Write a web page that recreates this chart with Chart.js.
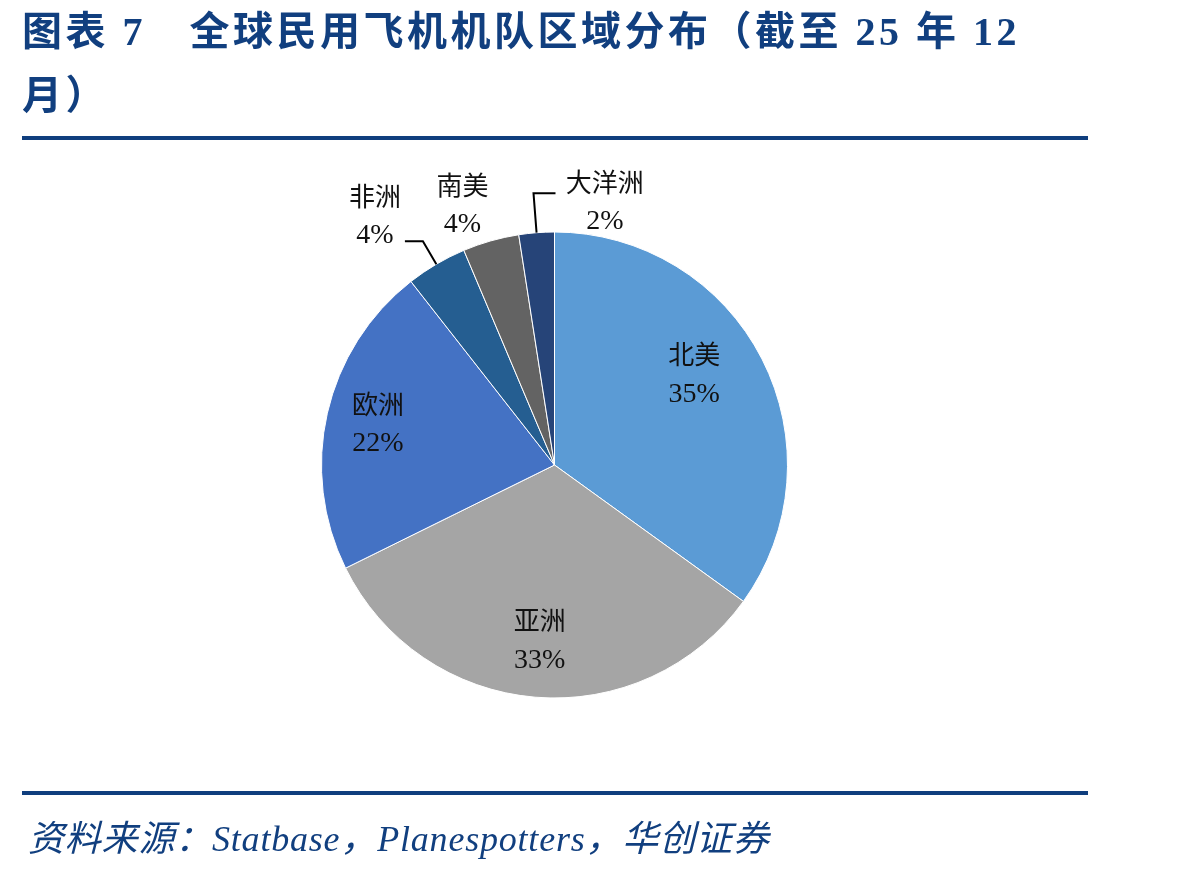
<!DOCTYPE html>
<html>
<head>
<meta charset="utf-8">
<script src="https://cdn.jsdelivr.net/npm/chart.js@4.4.1/dist/chart.umd.min.js"></script>
<style>
  html, body { margin: 0; padding: 0; background: #fff; }
  body { width: 1198px; height: 869px; position: relative; overflow: hidden; }
  #title {
    position: absolute; left: 22px; top: 0px;
    font: bold 40px "Liberation Serif", "Noto Sans CJK SC", serif;
    color: #113f7f; line-height: 64px; letter-spacing: 3.5px; white-space: nowrap;
  }
  .rule { position: absolute; left: 22px; width: 1066px; height: 4px; background: #0f3e7e; }
  #source {
    position: absolute; left: 28px; top: 809px;
    font: italic 36px "Liberation Serif", "Noto Sans CJK SC", serif;
    color: #113f7f; white-space: nowrap; letter-spacing: 0.8px;
  }
  #wrap { position: absolute; left: 0; top: 0; width: 1198px; height: 869px; }
</style>
</head>
<body>
<div id="wrap"><canvas id="pieChart"></canvas></div>
<div id="title">图表 7　全球民用飞机机队区域分布（截至 25 年 12<br>月）</div>
<div class="rule" style="top:136px"></div>
<div class="rule" style="top:791px"></div>
<div id="source">资料来源：Statbase，Planespotters，华创证券</div>
<script>
const regions = ['北美', '亚洲', '欧洲', '非洲', '南美', '大洋洲'];
const shares = [34.9, 32.7, 21.7, 4.2, 3.9, 2.45];
const sliceColors = ['#5b9bd5', '#a5a5a5', '#4472c4', '#255e91', '#636363', '#264478'];

// where each label sits: radius factor and angle shift (deg) from the slice middle
const labelPlace = [
    { r: 0.712, da: -5.5 },
    { r: 0.76, da: 0 },
    { r: 0.777, da: 0 },
    { r: 1.315, da: -5.4, leader: { elbow: 1.114, hx: -18 } },
    { r: 1.18, da: -3.7 },
    { r: 1.145, da: 15.3, leader: { elbow: 1.17, hx: 22 } }
];

const sliceLabels = {
    id: 'sliceLabels',
    afterDatasetsDraw(chart) {
        const ctx = chart.ctx;
        const meta = chart.getDatasetMeta(0);
        const total = shares.reduce((a, b) => a + b, 0);
        meta.data.forEach((arc, i) => {
            const p = arc.getProps(['x', 'y', 'startAngle', 'endAngle', 'outerRadius'], true);
            const mid = (p.startAngle + p.endAngle) / 2;
            const place = labelPlace[i];
            const a = mid + place.da * Math.PI / 180;
            const cx = p.x + Math.cos(a) * p.outerRadius * place.r;
            const cy = p.y + Math.sin(a) * p.outerRadius * place.r;

            ctx.save();
            if (place.leader) {
                const ex = p.x + Math.cos(mid) * p.outerRadius * place.leader.elbow;
                const ey = p.y + Math.sin(mid) * p.outerRadius * place.leader.elbow;
                ctx.beginPath();
                ctx.moveTo(p.x + Math.cos(mid) * p.outerRadius, p.y + Math.sin(mid) * p.outerRadius);
                ctx.lineTo(ex, ey);
                ctx.lineTo(ex + place.leader.hx, ey);
                ctx.strokeStyle = '#000';
                ctx.lineWidth = 2;
                ctx.stroke();
            }
            ctx.fillStyle = '#111';
            ctx.textAlign = 'center';
            ctx.textBaseline = 'middle';
            ctx.font = '26px "Liberation Serif", "Noto Sans CJK SC", serif';
            ctx.fillText(regions[i], cx, cy - 18);
            ctx.font = '28px "Liberation Serif", serif';
            ctx.fillText(Math.round(shares[i] / total * 100) + '%', cx, cy + 19);
            ctx.restore();
        });
    }
};

const config = {
    type: 'pie',
    data: {
        labels: regions,
        datasets: [{
            data: shares,
            backgroundColor: sliceColors,
            borderColor: '#ffffff',
            borderWidth: 1
        }]
    },
    options: {
        responsive: true,
        maintainAspectRatio: false,
        animation: false,
        layout: {
            padding: { left: 321, right: 410, top: 231, bottom: 170 }
        },
        plugins: {
            legend: { display: false },
            tooltip: { enabled: false }
        }
    },
    plugins: [sliceLabels]
};

const ctx = document.getElementById('pieChart').getContext('2d');
const pieChart = new Chart(ctx, config);
</script>
</body>
</html>
